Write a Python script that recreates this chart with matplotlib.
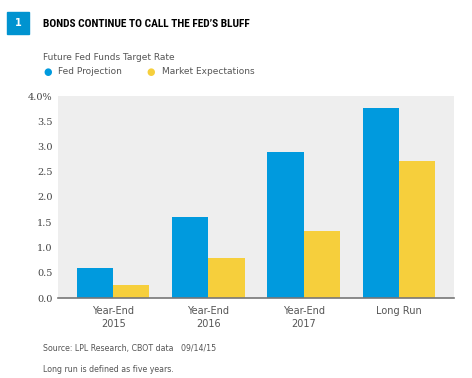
import numpy as np
import matplotlib
matplotlib.use('Agg')
import matplotlib.pyplot as plt
from matplotlib.patches import Rectangle
from matplotlib import font_manager

# data
categories = ['Year-End\n2015', 'Year-End\n2016', 'Year-End\n2017', 'Long Run']
fed_projection = [0.60, 1.60, 2.89, 3.76]
market_expectations = [0.26, 0.79, 1.33, 2.71]
yticks = [0.0, 0.5, 1.0, 1.5, 2.0, 2.5, 3.0, 3.5, 4.0]
ytick_labels = ['0.0', '0.5', '1.0', '1.5', '2.0', '2.5', '3.0', '3.5', '4.0%']

blue = '#009ADE'
yellow = '#F6CF3C'
gray_txt = '#555555'

names = set(f.name for f in font_manager.fontManager.ttflist)
title_font = 'Roboto'
for cand in ['Roboto Condensed', 'DejaVu Sans Condensed', 'Liberation Sans Narrow']:
    if cand in names:
        title_font = cand
        break

fig = plt.figure(figsize=(4.72, 3.78), dpi=100)
W, H = 472, 378

def fx(px):
    return px / W

def fy(py):
    return 1 - py / H

ax = fig.add_axes([fx(58), fy(298), fx(454) - fx(58), fy(96) - fy(298)])
ax.set_facecolor('#eeeeee')

x = np.arange(len(categories))
w = 0.38
ax.bar(x - w / 2, fed_projection, w, color=blue, zorder=2)
ax.bar(x + w / 2, market_expectations, w, color=yellow, zorder=2)

ax.set_xlim(-0.58, 3.58)
ax.set_ylim(0, 4.0)
ax.set_yticks(yticks)
ax.set_yticklabels(ytick_labels, fontsize=7, family='DejaVu Serif', color='#444444')
ax.set_xticks(x)
ax.set_xticklabels(categories, fontsize=7, color=gray_txt, linespacing=1.3)
ax.tick_params(axis='x', length=0, pad=6)
ax.tick_params(axis='y', length=0, pad=4)
for s in ['top', 'right', 'left']:
    ax.spines[s].set_visible(False)
ax.spines['bottom'].set_color('#777777')
ax.spines['bottom'].set_linewidth(1.2)
ax.spines['bottom'].set_zorder(3)

# header
fig.patches.append(Rectangle((fx(7), fy(34)), fx(22), fy(12) - fy(34),
                             transform=fig.transFigure, color='#0093D0'))
fig.text(fx(18), fy(23), '1', color='white', fontsize=7, fontweight='bold',
         ha='center', va='center')
title_size = 8.2 if title_font != 'Roboto' else 7.3
fig.text(fx(43), fy(24), 'BONDS CONTINUE TO CALL THE FED\u2019S BLUFF', fontsize=title_size,
         fontweight='bold', family=title_font, va='center')

fig.text(fx(43), fy(57), 'Future Fed Funds Target Rate', fontsize=6.5, color=gray_txt,
         va='center')
fig.text(fx(48), fy(72), '\u25CF', color=blue, fontsize=7, ha='center', va='center')
fig.text(fx(58), fy(72), 'Fed Projection', fontsize=6.5, color=gray_txt, va='center')
fig.text(fx(151), fy(72), '\u25CF', color=yellow, fontsize=7, ha='center', va='center')
fig.text(fx(162), fy(72), 'Market Expectations', fontsize=6.5, color=gray_txt, va='center')

# footer
fig.text(fx(43), fy(348), 'Source: LPL Research, CBOT data   09/14/15', fontsize=5.7,
         color=gray_txt, va='center')
fig.text(fx(43), fy(369), 'Long run is defined as five years.', fontsize=5.7,
         color=gray_txt, va='center')

fig.savefig('out.png', dpi=100, facecolor='white')
